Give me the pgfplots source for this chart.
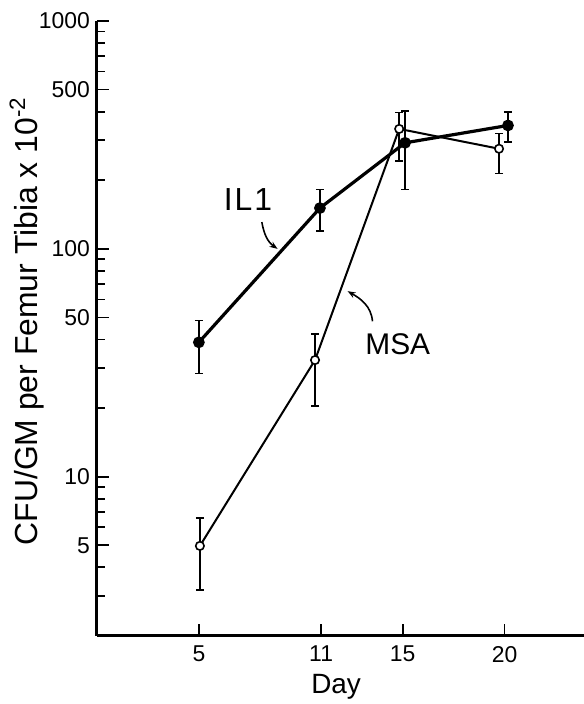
\documentclass[border=0pt]{standalone}
\usepackage{fontspec}
\setmainfont{Liberation Sans}
\usepackage{pgfplots}
\pgfplotsset{compat=1.18}
\usetikzlibrary{arrows.meta}
\begin{document}
\begin{tikzpicture}
\begin{axis}[
  name=ax, at={(0,0)}, anchor=south west,
  scale only axis, width=243.5bp, height=307.5bp,
  xmin=0, xmax=23.9,
  ymode=log, ymin=2, ymax=1000,
  axis lines=left,
  axis line style={-, line width=1.5bp},
  tick align=inside,
  major tick length=6bp, minor tick length=4bp,
  tick style={line width=0.9bp, black},
  xtick={5,11,15,20}, xticklabels={5,11,15,20},
  ytick={5,10,50,100,500,1000}, yticklabels={5,10,50,100,500,1000},
  minor ytick={3,4,6,7,8,9,20,30,40,60,70,80,90,200,300,400,600,700,800,900},
  ticklabel style={font=\fontsize{11.5}{13}\selectfont},
  xticklabel style={yshift=-1.5bp},
  /pgf/number format/assume math mode=true,
  every axis y label/.style={at={(axis description cs:-0.1437,0.512)}, rotate=90, anchor=center},
  every axis x label/.style={at={(axis description cs:0.491,-0.082)}, anchor=center},
  ylabel style={font=\fontsize{16}{18}\selectfont},
  xlabel style={font=\fontsize{14}{16}\selectfont},
  ylabel={CFU/GM per Femur Tibia x 10\textsuperscript{-2}},
  xlabel={Day},
  clip=false,
]
% IL1, filled circles
\addplot[black, line width=1.6bp, mark=*, mark size=2.1bp, mark options={solid, fill=black},
  error bars/.cd, y dir=both, y explicit,
  error bar style={line width=0.7bp},
  error mark options={rotate=90, mark size=2bp, line width=0.7bp}]
  coordinates {
  (5,38.9) += (0,9.5) -= (0,10.6)
  (10.94,151) += (0,31) -= (0,31.3)
  (15.12,292) += (0,111) -= (0,110)
  (20.17,348) += (0,51) -= (0,54)
  };
% MSA, open circles
\addplot[black, line width=1bp, mark=*, mark size=2.1bp, mark options={solid, fill=white, line width=0.8bp},
  error bars/.cd, y dir=both, y explicit,
  error bar style={line width=0.7bp},
  error mark options={rotate=90, mark size=2bp, line width=0.7bp}]
  coordinates {
  (5.05,4.97) += (0,1.61) -= (0,1.79)
  (10.7,32.5) += (0,9.8) -= (0,12.1)
  (14.83,336) += (0,60) -= (0,93)
  (19.73,275) += (0,46) -= (0,61)
  };
\node[font=\fontsize{16}{18}\selectfont] at (axis cs:7.41,165) {I\kern1bp L\kern1bp 1};
\node[font=\fontsize{15}{18}\selectfont] at (axis cs:14.76,38.1) {MSA};
\draw[-{Stealth[length=4bp,width=3bp]}, line width=0.8bp] (axis cs:8.09,131) to[out=-80,in=145] (axis cs:8.86,100);
\draw[-{Stealth[length=4bp,width=3bp]}, line width=0.8bp] (axis cs:13.52,48.1) to[out=95,in=-30] (axis cs:12.3,65.2);
\end{axis}
\pgfresetboundingbox
\useasboundingbox (-48.5bp,-34bp) rectangle (243.5bp,318bp);
\end{tikzpicture}
\end{document}
